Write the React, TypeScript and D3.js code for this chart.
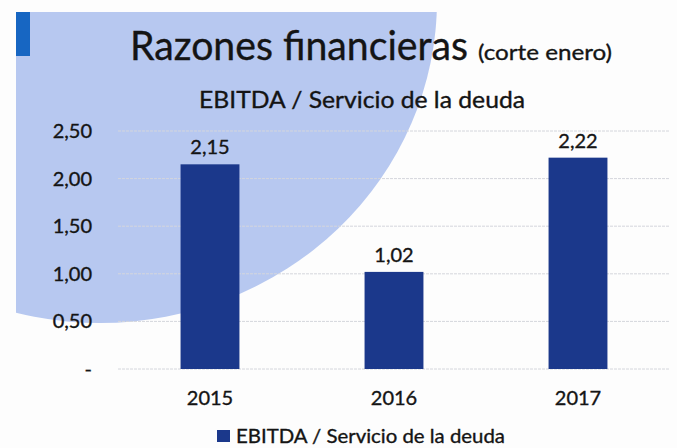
import React from "react";
import * as d3 from "d3";

const categories = ["2015", "2016", "2017"];
const values = [2.15, 1.02, 2.22];
const valueLabels = ["2,15", "1,02", "2,22"];
const yTicks = [0, 0.5, 1, 1.5, 2, 2.5];
const yTickLabels = ["-", "0,50", "1,00", "1,50", "2,00", "2,50"];
const seriesName = "EBITDA / Servicio de la deuda";

const W = 677;
const H = 448;
const FONT = "Lato, 'Open Sans', sans-serif";
const INK = "#141414";
const txt = { fontFamily: FONT, fill: INK, stroke: INK, strokeWidth: 0.35 };

export default function App() {
  const x = d3
    .scaleBand<string>()
    .domain(categories)
    .range([118, 670])
    .paddingInner(0.68)
    .paddingOuter(0.34);
  const y = d3.scaleLinear().domain([0, 2.5]).range([369, 131]);

  return (
    <svg
      width={W}
      height={H}
      style={{ position: "absolute", left: 0, top: 0, display: "block", background: "#fdfdfd" }}
    >
      <defs>
        <clipPath id="bgclip">
          <rect x={16} y={12} width={W} height={H} />
        </clipPath>
      </defs>
      <ellipse cx={100} cy={0} rx={337} ry={323} fill="#b7c8f0" clipPath="url(#bgclip)" />
      <rect x={16} y={12} width={14} height={44} fill="#1766c2" />

      <text x={130} y={60} {...txt} fontSize={40} textLength={338} lengthAdjust="spacingAndGlyphs">
        Razones financieras
      </text>
      <text x={478} y={60} {...txt} fontSize={22} textLength={134} lengthAdjust="spacingAndGlyphs">
        (corte enero)
      </text>
      <text x={199} y={108} {...txt} fontSize={23} textLength={326} lengthAdjust="spacingAndGlyphs">
        {seriesName}
      </text>

      {yTicks.map((t, i) => (
        <g key={t}>
          <line x1={118} x2={670} y1={y(t)} y2={y(t)} stroke="#d4d6dc" strokeWidth={1} strokeDasharray="3 1" />
          <text x={92} y={y(t)} dy="0.35em" textAnchor="end" {...txt} fontSize={20}>
            {yTickLabels[i]}
          </text>
        </g>
      ))}

      {categories.map((c, i) => (
        <g key={c}>
          <rect
            x={x(c)}
            y={y(values[i])}
            width={x.bandwidth()}
            height={y(0) - y(values[i])}
            fill="#1b388b"
          />
          <text
            x={(x(c) as number) + x.bandwidth() / 2}
            y={y(values[i]) - 10}
            textAnchor="middle"
            {...txt}
            fontSize={20}
          >
            {valueLabels[i]}
          </text>
          <text x={(x(c) as number) + x.bandwidth() / 2} y={405} textAnchor="middle" {...txt} fontSize={20}>
            {c}
          </text>
        </g>
      ))}

      <rect x={217} y={430} width={13} height={12} fill="#1b388b" />
      <text x={236} y={443} {...txt} fontSize={20} textLength={269} lengthAdjust="spacingAndGlyphs">
        {seriesName}
      </text>
    </svg>
  );
}
